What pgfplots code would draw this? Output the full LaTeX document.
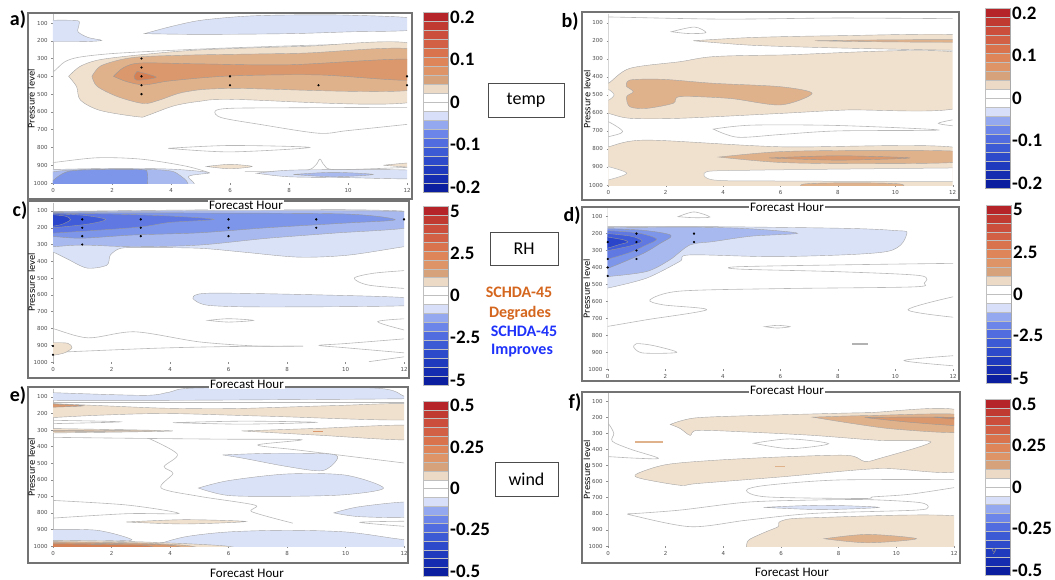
\documentclass[border=0pt]{standalone}
\usepackage{pgfplots}
\pgfplotsset{compat=1.18}
\usepackage{fontspec}
\setmainfont{Carlito}
\newfontfamily\dejavu{DejaVu Sans}

% contour fill levels
\definecolor{w1}{RGB}{240,224,206}
\definecolor{w2}{RGB}{224,178,140}
\definecolor{w3}{RGB}{219,152,108}
\definecolor{w4}{RGB}{213,128,84}
\definecolor{b1}{RGB}{218,226,248}
\definecolor{b2}{RGB}{168,185,240}
\definecolor{b3}{RGB}{125,150,233}
\definecolor{b4}{RGB}{95,120,226}
\definecolor{b5}{RGB}{65,92,216}
\definecolor{b6}{RGB}{42,68,202}
% colorbar, bottom to top
\definecolor{cb0}{RGB}{12,30,160}
\definecolor{cb1}{RGB}{22,44,176}
\definecolor{cb2}{RGB}{32,58,190}
\definecolor{cb3}{RGB}{45,74,202}
\definecolor{cb4}{RGB}{60,90,212}
\definecolor{cb5}{RGB}{80,108,222}
\definecolor{cb6}{RGB}{108,133,232}
\definecolor{cb7}{RGB}{148,168,240}
\definecolor{cb8}{RGB}{215,224,248}
\definecolor{cb9}{RGB}{255,255,255}
\definecolor{cb10}{RGB}{255,255,255}
\definecolor{cb11}{RGB}{236,218,198}
\definecolor{cb12}{RGB}{214,162,124}
\definecolor{cb13}{RGB}{222,148,102}
\definecolor{cb14}{RGB}{222,134,90}
\definecolor{cb15}{RGB}{216,115,78}
\definecolor{cb16}{RGB}{210,96,68}
\definecolor{cb17}{RGB}{203,78,60}
\definecolor{cb18}{RGB}{193,58,50}
\definecolor{cb19}{RGB}{180,36,40}
\definecolor{schor}{RGB}{212,102,30}
\definecolor{schbl}{RGB}{30,50,250}

\newcommand\seg[3]{\addplot[fill=#1, draw=black!25, line width=0.3pt] coordinates {(0,#2) (1,#2) (1,#3) (0,#3)} -- cycle;}
\newcommand\cbar{%
  \seg{cb0}{-10}{-9}\seg{cb1}{-9}{-8}\seg{cb2}{-8}{-7}\seg{cb3}{-7}{-6}\seg{cb4}{-6}{-5}%
  \seg{cb5}{-5}{-4}\seg{cb6}{-4}{-3}\seg{cb7}{-3}{-2}\seg{cb8}{-2}{-1}\seg{cb9}{-1}{0}%
  \seg{cb10}{0}{1}\seg{cb11}{1}{2}\seg{cb12}{2}{3}\seg{cb13}{3}{4}\seg{cb14}{4}{5}%
  \seg{cb15}{5}{6}\seg{cb16}{6}{7}\seg{cb17}{7}{8}\seg{cb18}{8}{9}\seg{cb19}{9}{10}}

\pgfplotsset{
  panel/.style={scale only axis, anchor=south west,
    xmin=0, xmax=12, ymin=50, ymax=1000, y dir=reverse,
    xtick={0,2,4,6,8,10,12}, ytick={100,200,300,400,500,600,700,800,900,1000},
    xticklabel pos=lower, xtick pos=lower, ytick pos=left,
    tick align=outside, major tick length=1.8pt,
    tick style={black!45, line width=0.4pt},
    axis line style={draw=none},
    /pgf/number format/assume math mode=true,
    /pgf/number format/1000 sep={},
    tick label style={font=\dejavu\fontsize{5.5}{6}\selectfont, text=black!70},
    ylabel={Pressure level},
    ylabel style={font=\dejavu\fontsize{8.5}{9}\selectfont, at={(axis description cs:-0.061,0.5)}, anchor=center},
  },
  cbar/.style={scale only axis, anchor=south west, width=25pt,
    xmin=0, xmax=1, ymin=-10, ymax=10, xtick=\empty,
    ytick={-9.45,-4.7,0,4.7,9.45}, ytick pos=right, yticklabel pos=right,
    major tick length=0pt, axis line style={draw=black!35, line width=0.5pt},
    yticklabel style={font=\bfseries\fontsize{19}{20}\selectfont, inner sep=1pt, xshift=1pt},
  },
  W1/.style={fill=w1, draw=black!35, line width=0.4pt, smooth, tension=0.5},
  W2/.style={fill=w2, draw=black!35, line width=0.4pt, smooth, tension=0.5},
  W3/.style={fill=w3, draw=black!40, line width=0.4pt, smooth, tension=0.5},
  W4/.style={fill=w4, draw=black!40, line width=0.4pt, smooth, tension=0.5},
  B1/.style={fill=b1, draw=black!35, line width=0.4pt, smooth, tension=0.5},
  B2/.style={fill=b2, draw=black!35, line width=0.4pt, smooth, tension=0.5},
  B3/.style={fill=b3, draw=black!40, line width=0.4pt, smooth, tension=0.5},
  B4/.style={fill=b4, draw=black!40, line width=0.4pt, smooth, tension=0.5},
  B5/.style={fill=b5, draw=black!40, line width=0.4pt, smooth, tension=0.5},
  B6/.style={fill=b6, draw=black!40, line width=0.4pt, smooth, tension=0.5},
  wz/.style={fill=white, draw=black!28, line width=0.5pt, smooth, tension=0.5},
  zc/.style={draw=black!28, line width=0.6pt, smooth, tension=0.5},
  dots/.style={only marks, mark=*, mark size=0.9pt, black},
}

\begin{document}
\begin{tikzpicture}
\path[use as bounding box] (0,0) rectangle (1055pt,-580pt);

% ---------- frames ----------
\begin{scope}[draw=black!55, line width=1.1pt]
\draw (28pt,-13pt) rectangle (412pt,-199pt);
\draw (582pt,-12pt) rectangle (959pt,-200pt);
\draw (28pt,-201pt) rectangle (409pt,-378pt);
\draw (582pt,-207pt) rectangle (959pt,-381pt);
\draw (28pt,-387pt) rectangle (408pt,-563pt);
\draw (582pt,-392pt) rectangle (960pt,-563pt);
\end{scope}

% ---------- a) temp ----------
\begin{axis}[panel, at={(53pt,-183pt)}, width=354pt, height=168.9pt]
\draw[black!25, line width=0.8pt] (axis cs:0,50) -- (axis cs:0,1000);
\addplot[zc] coordinates {(-0.3,380)(0,375)(0.4,318)(0.9,292)(2,272)(4,254)(6,240)(9,224)(12.3,214)};
\addplot[B1] coordinates {(-0.3,85)(0.8,86)(0.88,110)(0.85,150)(1.2,182)(1.65,198)(1,205)(-0.3,205)} -- cycle;
\addplot[B1] coordinates {(3.1,160)(4,120)(5,85)(6.5,62)(8,55)(10,56)(12.3,75)(12.3,138)(10,150)(8,160)(5,164)(3.1,160)} -- cycle;
\addplot[W1] coordinates {(0.53,400)(0.93,343)(1.6,306)(3.07,277)(5,251)(8.4,232)(12.3,223)(12.3,540)(6.1,530)(5,540)(4.1,566)(3.2,620)(2.9,628)(1.6,592)(0.93,534)(0.8,458)(0.53,400)} -- cycle;
\addplot[W2] coordinates {(1.32,400)(1.6,343)(2.3,306)(3.07,289)(5,279)(8.4,270)(12.3,251)(12.3,474)(6.1,468)(4.5,487)(3.6,534)(3.07,553)(2.2,515)(1.5,457)(1.32,400)} -- cycle;
\addplot[W3] coordinates {(2.05,400)(2.4,350)(3,325)(5,330)(8,335)(12.3,305)(12.3,420)(9,392)(6,398)(4,425)(3.1,448)(2.5,430)(2.05,400)} -- cycle;
\addplot[W4] coordinates {(2.85,372)(3.5,405)(2.85,422)(2.75,400)(2.85,372)} -- cycle;
\addplot[zc] coordinates {(12.3,574)(8,577)(6,580)(5.5,595)(5.7,632)(7,670)(9,720)(10,705)(12.3,665)};
\addplot[zc] coordinates {(3.9,805)(6,789)(8.7,800)(6,825)(3.9,805)} -- cycle;
\addplot[zc] coordinates {(-0.3,888)(0,885)(1.5,858)(3,866)(4.5,905)(5.3,942)};
\addplot[zc] coordinates {(6.5,935)(8.5,930)(8.9,900)(9.05,865)(9.2,900)(9.6,925)(12.3,910)};
\addplot[B1] coordinates {(-0.3,925)(2,918)(4,922)(5.3,942)(4.6,962)(4.5,1030)(-0.3,1030)} -- cycle;
\addplot[B2] coordinates {(-0.3,945)(0.5,928)(2,922)(3.5,925)(4.2,945)(4.3,1030)(-0.3,1030)} -- cycle;
\addplot[B3] coordinates {(-0.3,1030)(0.2,960)(0.6,932)(1.5,925)(3,925)(3.2,945)(3.2,1030)} -- cycle;
\addplot[B1] coordinates {(6.9,945)(8,928)(10,925)(12.3,930)(12.3,975)(10,970)(8,965)(6.9,945)} -- cycle;
\addplot[B2] coordinates {(8.15,952)(9.5,940)(10.85,952)(9.5,965)(8.15,952)} -- cycle;
\addplot[W1] coordinates {(5.2,907)(6,895)(6.75,907)(6,920)(5.2,907)} -- cycle;
\addplot[W1] coordinates {(11.2,900)(12.3,885)(12.3,912)(11.2,900)} -- cycle;
\addplot[dots] coordinates {(3,300)(3,350)(3,400)(3,450)(3,500)(6,400)(6,450)(9,450)(12,400)(12,450)};
\end{axis}

% ---------- b) ----------
\begin{axis}[panel, at={(608.3pt,-185pt)}, width=344.4pt, height=171.3pt]
\draw[black!25, line width=0.8pt] (axis cs:0,50) -- (axis cs:0,1000);
\addplot[zc] coordinates {(-0.3,68)(0,68)(4,80)(8,74)(12.3,78)};
\addplot[zc] coordinates {(2.2,150)(3,124)(3.4,155)(2.8,160)(2.2,150)} -- cycle;
\addplot[W1] coordinates {(2.96,200)(5,182)(8,172)(12.3,168)(12.3,250)(11.8,252)(8,240)(5,225)(2.96,200)} -- cycle;
\addplot[W2] coordinates {(7.2,200)(9,196)(12.3,194)(12.3,208)(9,205)(7.2,200)} -- cycle;
\addplot[W1] coordinates {(-0.3,436)(0,436)(0.75,353)(2.5,316)(3.66,288)(6,279)(12.3,270)(12.3,566)(8.3,584)(6,603)(2.5,630)(0.75,630)(0,603)(-0.3,603)} -- cycle;
\addplot[wz] coordinates {(-0.3,470)(0,470)(0.2,500)(0,530)(-0.3,530)} -- cycle;
\addplot[W2] coordinates {(0.64,455)(0.75,418)(1.9,414)(3.66,436)(6,455)(7.1,492)(6,556)(4.24,520)(2.5,510)(2.26,547)(1.34,575)(0.75,566)(0.64,510)(0.87,483)(0.64,455)} -- cycle;
\addplot[zc] coordinates {(-0.3,649)(0,649)(0.5,704)(0,732)(-0.3,732)};
\addplot[zc] coordinates {(3.66,690)(5,668)(8,670)(11.5,695)(8,700)(6,720)(4.5,735)(3.66,690)} -- cycle;
\addplot[zc] coordinates {(12.3,630)(11.5,658)(12.3,677)};
\addplot[W1] coordinates {(-0.3,790)(0,788)(1.34,751)(6,788)(12.3,797)(12.3,1030)(-0.3,1030)} -- cycle;
\addplot[wz] coordinates {(-0.3,895)(0,898)(0.64,935)(0,972)(-0.3,975)} -- cycle;
\addplot[wz] coordinates {(12.3,905)(8,912)(5,918)(3.43,926)(3.66,972)(6,978)(12.3,982)} -- cycle;
\addplot[W2] coordinates {(3.85,845)(6,815)(9,808)(12.3,815)(12.3,872)(9,882)(6,875)(3.85,845)} -- cycle;
\addplot[W3] coordinates {(5.6,850)(8,838)(10.5,850)(8,862)(5.6,850)} -- cycle;
\addplot[W2] coordinates {(6.8,1030)(6.8,995)(8.5,988)(10.2,995)(10.2,1030)} -- cycle;
\end{axis}

% ---------- c) RH ----------
\begin{axis}[panel, at={(53pt,-362pt)}, width=351pt, height=159.4pt]
\draw[black!25, line width=0.8pt] (axis cs:0,50) -- (axis cs:0,1000);
\addplot[B1] coordinates {(-0.3,104)(12.3,104)(12.3,313)(12,313)(10.1,363)(8.4,375)(6.5,345)(5,322)(3,318)(2.3,323)(1.96,363)(1.84,423)(1.16,440)(0.48,385)(0,345)(-0.3,340)} -- cycle;
\addplot[B2] coordinates {(-0.3,104)(12.3,104)(12.3,195)(9.6,232)(7.3,263)(5,303)(2.75,313)(1,303)(0,313)(-0.3,313)} -- cycle;
\addplot[B3] coordinates {(-0.3,110)(5,112)(10,118)(11.7,152)(10,172)(7.3,200)(5,230)(2.75,243)(1,262)(0,252)(-0.3,252)} -- cycle;
\addplot[B4] coordinates {(-0.3,112)(2,118)(4,130)(5.5,150)(4,168)(3,195)(1.5,215)(0,232)(-0.3,232)} -- cycle;
\addplot[B5] coordinates {(-0.3,115)(1,125)(1.8,150)(1.2,178)(0,200)(-0.3,200)} -- cycle;
\addplot[B6] coordinates {(-0.3,118)(0.4,130)(0.6,152)(0.3,180)(0,190)(-0.3,190)} -- cycle;
\addplot[B1] coordinates {(4.8,625)(5.3,590)(9.6,602)(12.3,620)(12.3,663)(7.3,672)(5.3,662)(4.8,625)} -- cycle;
\addplot[zc] coordinates {(12.3,452)(11,470)(10.3,500)(10.8,542)(12.3,565)};
\addplot[zc] coordinates {(5.3,752)(6,742)(6.85,752)(6,762)(5.3,752)} -- cycle;
\addplot[zc] coordinates {(12.3,740)(11.1,760)(12.3,822)};
\addplot[zc] coordinates {(-0.3,795)(0,801)(1.2,856)(2.8,820)(5,880)(7,905)(8.55,905)};
\addplot[zc] coordinates {(-0.3,945)(0,943)(3.5,918)(6,908)(8.55,905)};
\addplot[zc] coordinates {(12.3,858)(10,890)(9.1,901)(10,915)(12.3,950)};
\addplot[zc] coordinates {(10.8,998)(12.3,962)};
\addplot[W1] coordinates {(-0.3,885)(0,885)(0.5,888)(0.65,915)(0.4,945)(0,960)(-0.3,960)} -- cycle;
\addplot[dots] coordinates {(1,150)(1,200)(1,250)(1,300)(3,150)(3,200)(3,250)(6,150)(6,200)(6,250)(9,150)(9,200)(12,150)(0,905)(0,957)};
\end{axis}

% ---------- d) ----------
\begin{axis}[panel, at={(607.7pt,-369pt)}, width=345.3pt, height=160.8pt]
\draw[black!25, line width=0.8pt] (axis cs:0,50) -- (axis cs:0,1000);
\addplot[zc] coordinates {(2.45,100)(3,72)(3.55,102)(3,106)(2.45,100)} -- cycle;
\addplot[B1] coordinates {(-0.3,159)(3.67,159)(8.3,169)(10,182)(10.4,198)(9.7,306)(6,336)(2.86,326)(2.5,365)(1.35,463)(0,522)(-0.3,525)} -- cycle;
\addplot[B2] coordinates {(-0.3,165)(3,162)(5,172)(6.6,198)(5,215)(3.67,247)(2.86,267)(2.16,355)(1.35,424)(0,454)(-0.3,454)} -- cycle;
\addplot[B3] coordinates {(-0.3,170)(1.2,180)(2.2,210)(1.8,260)(1.2,320)(0,405)(-0.3,405)} -- cycle;
\addplot[B4] coordinates {(-0.3,180)(1,195)(1.7,232)(1.3,270)(0.8,310)(0,350)(-0.3,350)} -- cycle;
\addplot[B5] coordinates {(-0.3,195)(0.8,215)(1.2,245)(0.8,272)(0,300)(-0.3,300)} -- cycle;
\addplot[B6] coordinates {(-0.3,212)(0.5,235)(0.7,250)(0.4,265)(0,285)(-0.3,285)} -- cycle;
\addplot[zc] coordinates {(-0.3,752)(0,748)(1.35,709)(3.44,650)(1.93,621)(1.47,591)(2.5,540)(6,525)(10.6,515)(11,493)(10.85,448)(8,425)(4.6,410)(4.5,396)(8,385)(12.3,375)};
\addplot[zc] coordinates {(12.3,562)(10.44,650)(12.3,699)};
\addplot[zc] coordinates {(5.46,750)(5.9,742)(6.33,750)(5.9,758)(5.46,750)} -- cycle;
\addplot[zc] coordinates {(0.9,870)(1,850)(1.6,862)(2.4,902)(1.2,905)(0.9,870)} -- cycle;
\addplot[draw=black!30, line width=1.2pt] coordinates {(8.5,852)(9.05,852)};
\addplot[zc] coordinates {(12.3,918)(10.3,950)(12.3,985)};
\addplot[dots] coordinates {(1,200)(1,250)(1,300)(1,350)(3,200)(3,250)(0,250)(0,350)(0,400)(0,450)};
\end{axis}

% ---------- e) wind ----------
\begin{axis}[panel, at={(53pt,-546pt)}, width=351pt, height=157.3pt]
\draw[black!25, line width=0.8pt] (axis cs:0,50) -- (axis cs:0,1000);
\addplot[B1] coordinates {(-0.3,72)(3.1,90)(4,70)(5,45)(10.9,45)(12,95)(12.3,100)(12.3,110)(8,116)(4,120)(0,120)(-0.3,120)} -- cycle;
\addplot[zc] coordinates {(-0.3,130)(12.3,130)};
\addplot[W1] coordinates {(-0.3,140)(0,140)(2,155)(3.9,168)(6.2,170)(9.6,152)(12.3,144)(12.3,237)(7.3,216)(3.9,200)(1.6,210)(0,224)(-0.3,224)} -- cycle;
\addplot[W3] coordinates {(-0.3,140)(1.05,153)(-0.3,163)} -- cycle;
\addplot[zc] coordinates {(-0.3,240)(2.3,250)(-0.3,262)};
\addplot[zc] coordinates {(4.1,255)(6.5,246)(9,253)(6.5,264)(4.1,255)} -- cycle;
\addplot[W1] coordinates {(-0.3,290)(4.1,305)(-0.3,318)} -- cycle;
\addplot[W2] coordinates {(-0.3,301)(3.5,305)(-0.3,309)} -- cycle;
\addplot[W1] coordinates {(6.45,305)(9,290)(12.3,272)(12.3,358)(9,330)(6.45,305)} -- cycle;
\addplot[fill=w3, draw=w3, sharp plot] coordinates {(8.9,304)(9.2,304)(9.2,307)(8.9,307)} -- cycle;
\addplot[zc] coordinates {(-0.3,343)(3,350)(6,355)(8.5,358)(7,390)(8.5,423)(12.3,505)};
\addplot[zc] coordinates {(3.3,352)(4.25,445)(3.8,520)(4.1,562)(3.7,650)(5,700)(6.9,753)(6.8,793)(8.2,862)};
\addplot[zc] coordinates {(-0.3,722)(2.5,752)(4.3,803)(2.5,805)(-0.3,835)};
\addplot[B1] coordinates {(5.8,450)(7.5,440)(9.5,445)(9.7,480)(9.2,545)(8,520)(6.5,470)(5.8,450)} -- cycle;
\addplot[B1] coordinates {(4.97,650)(6,605)(8,565)(10,572)(11.3,650)(10,690)(8,700)(6,695)(4.97,650)} -- cycle;
\addplot[B1] coordinates {(9.6,800)(10.5,762)(12.3,735)(12.3,822)(10.5,823)(9.6,800)} -- cycle;
\addplot[zc] coordinates {(12.3,850)(10.5,857)(12.3,885)};
\addplot[W1] coordinates {(2.5,855)(4.5,841)(6.6,852)(4.5,867)(2.5,855)} -- cycle;
\addplot[B1] coordinates {(-0.3,900)(1.5,905)(2.7,963)(1.5,965)(-0.3,965)} -- cycle;
\addplot[B1] coordinates {(3.44,1030)(3.44,1000)(4.5,945)(6,915)(8,905)(10,915)(11.5,950)(12.3,975)(12.3,1030)} -- cycle;
\addplot[W1] coordinates {(-0.3,965)(3,975)(5.9,1000)(5.9,1030)(-0.3,1030)} -- cycle;
\addplot[W2] coordinates {(-0.3,973)(3,982)(4.7,1000)(4.7,1030)(-0.3,1030)} -- cycle;
\addplot[W3] coordinates {(-0.3,980)(3,988)(4.2,1000)(4.2,1030)(-0.3,1030)} -- cycle;
\addplot[W4] coordinates {(-0.3,986)(2.5,993)(3.3,1000)(3.3,1030)(-0.3,1030)} -- cycle;
\end{axis}

% ---------- f) ----------
\begin{axis}[panel, at={(608pt,-546pt)}, width=346pt, height=153pt]
\draw[black!25, line width=0.8pt] (axis cs:0,50) -- (axis cs:0,1000);
\addplot[W1] coordinates {(2.16,245)(3,205)(5,190)(7.1,180)(9,172)(12.3,166)(12.3,525)(9.4,519)(6,571)(3.1,612)(2.5,623)(1.12,580)(1,552)(2,495)(3.66,468)(6,447)(8.3,437)(8.9,475)(9.4,457)(11.2,354)(9.4,344)(7.1,313)(4.8,292)(3.1,282)(2.85,313)(2.5,270)(2.16,245)} -- cycle;
\addplot[W2] coordinates {(7.1,200)(9,190)(12.3,185)(12.3,292)(10,275)(8.5,240)(7.1,200)} -- cycle;
\addplot[W3] coordinates {(8.9,202)(10.5,200)(12.3,205)(12.3,252)(10.5,232)(8.9,202)} -- cycle;
\addplot[W4] coordinates {(11.3,200)(12.3,203)(12.3,216)(11.3,200)} -- cycle;
\addplot[zc] coordinates {(5.05,362)(6.3,335)(7.65,365)(6.3,395)(5.05,362)} -- cycle;
\addplot[fill=w2, draw=w2, line width=0.3pt, sharp plot] coordinates {(0.95,351)(1.87,351)(1.87,357)(0.95,357)} -- cycle;
\addplot[fill=w2, draw=w2, line width=0.3pt, sharp plot] coordinates {(5.8,503)(6.1,503)(6.1,507)(5.8,507)} -- cycle;
\addplot[zc] coordinates {(-0.3,240)(0,240)(0.2,300)(0.15,350)(0.8,400)(1.75,455)(1,455)(0,445)(-0.3,445)};
\addplot[zc] coordinates {(12.3,588)(8,590)(5.5,623)(4.8,654)(5.5,695)(8.86,705)(9.2,695)(10.5,678)(12.3,629)};
\addplot[zc] coordinates {(0.8,800)(2.5,777)(4.8,728)(7,715)(9,712)(10.8,730)(11.1,760)(10.6,778)(7.1,798)(4.8,840)(2.86,880)(0.8,808)(0.8,800)} -- cycle;
\addplot[B1] coordinates {(5.4,760)(7.4,747)(9.4,760)(7.4,774)(5.4,760)} -- cycle;
\addplot[W1] coordinates {(4.8,1030)(4.8,1000)(4.9,960)(5.5,910)(5.9,880)(6,845)(7,825)(12.3,819)(12.3,1030)} -- cycle;
\addplot[W2] coordinates {(7.5,955)(9,928)(10.7,955)(9,980)(7.5,955)} -- cycle;
\end{axis}

% ---------- colorbars ----------
\begin{axis}[cbar, at={(423pt,-192pt)}, height=180pt, yticklabels={-0.2,-0.1,0,0.1,0.2}]
\cbar
\end{axis}
\begin{axis}[cbar, at={(985pt,-188pt)}, height=180pt, yticklabels={-0.2,-0.1,0,0.1,0.2}]
\cbar
\end{axis}
\begin{axis}[cbar, at={(423pt,-385pt)}, height=179pt, yticklabels={-5,-2.5,0,2.5,5}]
\cbar
\end{axis}
\begin{axis}[cbar, at={(986pt,-383pt)}, height=178pt, yticklabels={-5,-2.5,0,2.5,5}]
\cbar
\end{axis}
\begin{axis}[cbar, at={(423pt,-576pt)}, height=175pt, yticklabels={-0.5,-0.25,0,0.25,0.5}]
\cbar
\end{axis}
\begin{axis}[cbar, at={(985pt,-575pt)}, height=176pt, yticklabels={-0.5,-0.25,0,0.25,0.5}]
\cbar
\end{axis}

% ---------- texts ----------
\begin{scope}[every node/.style={font=\fontsize{13}{14}\selectfont, fill=white, inner sep=1pt}]
\node at (246pt,-205pt) {Forecast Hour};
\node at (787pt,-207pt) {Forecast Hour};
\node at (247pt,-384pt) {Forecast Hour};
\node at (787pt,-390pt) {Forecast Hour};
\node at (247pt,-573pt) {Forecast Hour};
\node at (792pt,-572pt) {Forecast Hour};
\end{scope}
\begin{scope}[every node/.style={font=\bfseries\fontsize{20}{22}\selectfont, inner sep=0pt}]
\node at (18pt,-20pt) {a)};
\node at (570pt,-22pt) {b)};
\node at (20pt,-211pt) {c)};
\node at (572pt,-216pt) {d)};
\node at (18pt,-396pt) {e)};
\node at (575pt,-403pt) {f)};
\end{scope}
\begin{scope}[every node/.style={draw=black!70, line width=0.6pt, font=\fontsize{18}{20}\selectfont}]
\node[minimum width=76pt, minimum height=34pt] at (526pt,-100pt) {temp};
\node[minimum width=68pt, minimum height=33pt] at (524pt,-248.5pt) {RH};
\node[minimum width=63pt, minimum height=34pt] at (526.5pt,-479pt) {wind};
\end{scope}
\begin{scope}[every node/.style={font=\bfseries\fontsize{16}{18}\selectfont, inner sep=0pt}]
\node[text=schor] at (519pt,-292pt) {SCHDA-45};
\node[text=schor] at (520pt,-313pt) {Degrades};
\node[text=schbl] at (524pt,-331pt) {SCHDA-45};
\node[text=schbl] at (522pt,-351pt) {Improves};
\end{scope}
\node[text=black!45, font=\fontsize{9}{10}\selectfont] at (994pt,-552pt) {9};
\end{tikzpicture}
\end{document}
